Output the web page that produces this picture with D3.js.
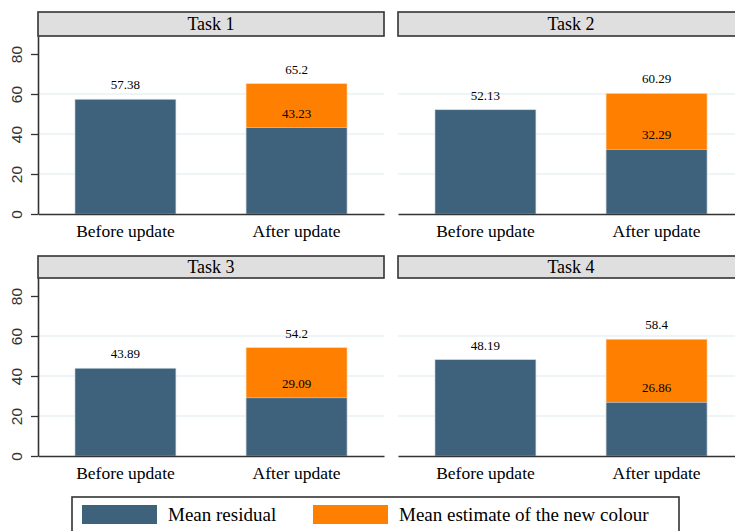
<!DOCTYPE html>
<html>
<head>
<meta charset="utf-8">
<script src="https://cdn.jsdelivr.net/npm/d3@7.9.0/dist/d3.min.js"></script>
<style>
  body { margin: 0; background: #fff; }
  svg { display: block; }
</style>
</head>
<body>
<svg id="chart" width="735" height="531"></svg>
<script>
// data
const tasks = ["Task 1", "Task 2", "Task 3", "Task 4"];
const periods = ["Before update", "After update"];
const meanResidual = [[57.38, 43.23], [52.13, 32.29], [43.89, 29.09], [48.19, 26.86]];
const newColourEstimate = [[null, 65.2], [null, 60.29], [null, 54.2], [null, 58.4]];
const yTicks = [0, 20, 40, 60, 80];
const legendLabels = ["Mean residual", "Mean estimate of the new colour"];

const navy = "#3e627c";
const orange = "#ff7f00";

const svg = d3.select("#chart");

// panel layout
const colX = [38, 398];
const panelW = 346;
const rows = [
  { top: 12, headBottom: 36, axis: 214 },
  { top: 256, headBottom: 278, axis: 456 }
];

const x = d3.scaleBand().domain(periods).range([0, panelW])
  .paddingInner(0.41).paddingOuter(0.216);

tasks.forEach((task, i) => {
  const r = rows[Math.floor(i / 2)];
  const col = i % 2;
  const g = svg.append("g").attr("transform", `translate(${colX[col]},0)`);

  const y = d3.scaleLinear().domain([0, 89]).range([r.axis, r.headBottom]);

  // grid lines
  g.selectAll(".grid").data([20, 40, 60]).join("line")
    .attr("x1", 0).attr("x2", panelW)
    .attr("y1", d => y(d)).attr("y2", d => y(d))
    .attr("stroke", "#eaf2f4").attr("stroke-width", 1.5);

  // orange (total estimate) then navy (residual) on top
  periods.forEach((p, j) => {
    const est = newColourEstimate[i][j];
    const res = meanResidual[i][j];
    const cx = x(p) + x.bandwidth() / 2;
    if (est != null) {
      g.append("rect")
        .attr("x", x(p)).attr("width", x.bandwidth())
        .attr("y", y(est)).attr("height", y(0) - y(est))
        .attr("fill", orange).attr("stroke", "#ffd9b0").attr("stroke-width", 0.6);
    }
    g.append("rect")
      .attr("x", x(p)).attr("width", x.bandwidth())
      .attr("y", y(res)).attr("height", y(0) - y(res))
      .attr("fill", navy).attr("stroke", "#cfdde6").attr("stroke-width", 0.6);

    g.append("text")
      .attr("x", cx).attr("y", y(res) - 10)
      .attr("text-anchor", "middle")
      .style("font", "13px 'Liberation Serif'").attr("fill", "#000")
      .text(res);
    if (est != null) {
      g.append("text")
        .attr("x", cx).attr("y", y(est) - 10)
        .attr("text-anchor", "middle")
        .style("font", "13px 'Liberation Serif'").attr("fill", "#000")
        .text(est);
    }
  });

  // x axis
  const xAxis = g.append("g").attr("transform", `translate(0,${r.axis})`)
    .call(d3.axisBottom(x).tickSize(0).tickPadding(11));
  xAxis.select(".domain").attr("stroke", "#333").attr("stroke-width", 1.6);
  xAxis.selectAll("text").style("font", "17.5px 'Liberation Serif'").attr("fill", "#000");

  // y axis only on left column
  if (col === 0) {
    const yAxis = g.append("g")
      .call(d3.axisLeft(y).tickValues(yTicks).tickSize(7).tickSizeOuter(0));
    yAxis.select(".domain").attr("stroke", "#333").attr("stroke-width", 1.6);
    yAxis.selectAll(".tick line").attr("stroke", "#333").attr("stroke-width", 1.3);
    yAxis.selectAll(".tick text")
      .style("font", "15.5px 'Liberation Sans'").attr("fill", "#333")
      .attr("transform", "rotate(-90)")
      .attr("x", 0).attr("y", -21).attr("dy", "0.35em")
      .attr("text-anchor", "middle");
  }

  // header strip
  g.append("rect")
    .attr("x", 0).attr("y", r.top)
    .attr("width", panelW).attr("height", r.headBottom - r.top)
    .attr("fill", "#dfdfdf").attr("stroke", "#333").attr("stroke-width", 1.6);
  g.append("text")
    .attr("x", panelW / 2).attr("y", (r.top + r.headBottom) / 2 + 6)
    .attr("text-anchor", "middle")
    .style("font", "18px 'Liberation Serif'").attr("fill", "#000")
    .text(task);
});

// legend
const legend = svg.append("g");
legend.append("rect")
  .attr("x", 72).attr("y", 497).attr("width", 607).attr("height", 60)
  .attr("fill", "#fff").attr("stroke", "#333").attr("stroke-width", 1.6);
const legendX = [82, 313];
[navy, orange].forEach((c, k) => {
  legend.append("rect")
    .attr("x", legendX[k]).attr("y", 505).attr("width", 75).attr("height", 19)
    .attr("fill", c);
  legend.append("text")
    .attr("x", legendX[k] + 86).attr("y", 521)
    .style("font", "19px 'Liberation Serif'").attr("fill", "#000")
    .text(legendLabels[k]);
});
</script>
</body>
</html>
